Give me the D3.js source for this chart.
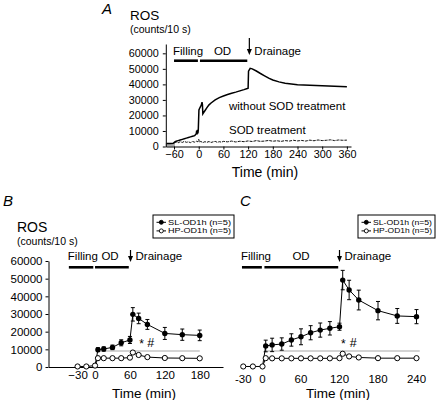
<!DOCTYPE html>
<html><head><meta charset="utf-8">
<script src="https://cdn.jsdelivr.net/npm/d3@7"></script>
<style>
body{margin:0;background:#fff;}
svg{display:block;font-family:Arial,"Liberation Sans",sans-serif;}
</style></head>
<body>
<svg id="chart" width="437" height="400"></svg>
<script>
// ---------- DATA ----------
// Panel A: continuous chemiluminescence traces (time in min, counts/10 s)
const traceATimes = [-78,-70,-62,-58,-55,-50,-45,-40,-35,-30,-25,-20,-15,-10,-8,-6,-5,-4,-3,-2,-1,0,0.5,2,4,6,8,9,10,12,15,20,25,30,40,50,60,70,80,90,100,110,118,120,121,125,130,140,150,160,170,180,195,210,225,240,270,300,330,360];
const traceAWithout = [2000,2000,2100,3000,3400,3800,4200,4600,5000,5400,5800,6200,6600,7000,7600,8200,10200,7800,10800,8400,11000,19500,23500,24500,25500,26500,28500,27000,21000,21800,23000,25000,26800,28000,30000,31500,32500,33500,34300,35000,35800,36600,37300,37500,48500,50300,50000,48600,47000,45500,44000,42800,41600,40800,40300,39800,39500,39100,38800,38500];
const traceSODTimes = [-60,-55,-50,-45,-40,-35,-30,-25,-20,-15,-10,-5,-2,0,2,5,10,15,20,25,30,35,40,45,50,55,60,70,80,90,100,110,120,130,140,150,160,170,180,190,200,210,220,230,240,250,260,270,280,290,300,310,320,330,340,350,360];
const traceSODValues = [2300,2900,2400,3100,2600,3300,2700,3000,2500,3200,2800,3400,3000,4600,2700,3300,2500,3100,2700,3200,2600,3000,3300,2700,3100,2800,3300,3000,3500,2900,3400,3100,3600,3200,3800,3300,3500,3900,3400,3700,3300,3800,3500,4000,3600,3900,3500,4100,3700,4200,3800,4000,4300,3800,4200,4000,4100];
// grey baseline band at the start of the recording
const bandTimes = [-80,-58];
const bandValue = 2200;
// Panel B: SL-OD1h and HP-OD1h, 1 h overdistension
const bSLTimes = [5,15,30,45,60,65,75,90,120,150,180];
const bSLValues = [9800,10200,11100,13700,15300,29800,27500,24100,19000,18300,17900];
const bSLErr = [1100,1200,1300,1700,2000,3800,3000,2800,3400,3200,3000];
const bHPTimes = [-30,-15,0,5,15,30,45,60,65,75,90,120,150,180];
const bHPValues = [300,300,800,5000,5000,5000,5000,5300,8200,6800,5600,5100,5000,4900];
// Panel C: SL-OD1h and HP-OD1h, 2 h overdistension
const cSLTimes = [5,15,30,45,60,75,90,105,120,125,135,150,180,210,240];
const cSLValues = [11900,12500,13000,15300,17100,19400,20900,21900,22800,49200,43600,37900,31900,28900,28500];
const cSLErr = [3300,3800,3500,3500,4500,4000,4000,3800,2000,5500,5500,5600,5200,4200,4000];
const cHPTimes = [-30,-15,0,5,15,30,45,60,75,90,105,120,125,135,150,180,210,240];
const cHPValues = [300,300,300,5000,4900,4900,4900,4900,4900,4900,4900,5000,7500,6000,5400,5000,5000,5000];
// tick labels / annotations
const aXTicks = [-60,0,60,120,180,240,300,360];
const bXTicks = [-30,0,60,120,180];
const cXTicks = [-30,0,60,120,180,240];
const yTicks = [0,10000,20000,30000,40000,50000,60000];
const legendLabels = ["SL-OD1h (n=5)","HP-OD1h (n=5)"];
const phaseLabels = ["Filling","OD","Drainage"];
// phase bars [start,end] in minutes
const aPhases = [[-60,-2],[3,118]], aDrain = 123;
const bPhases = [[-45,-3],[0,58]], bDrain = 61;
const cPhases = [[-32,-1],[3,118]], cDrain = 120;
const bSig = 9000, bSigRange = [5,180];
const cSig = 9000, cSigRange = [5,245];

// ---------- DRAW ----------
const svg = d3.select("#chart");
const FONT = 'Arial,"Liberation Sans",sans-serif';

function txt(x,y,s,size,opts={}){
  const t = svg.append("text").attr("x",x).attr("y",y).text(s)
    .attr("font-size",size).attr("fill","#000")
    .attr("text-anchor",opts.anchor||"start")
    .attr("dominant-baseline","central")
    .attr("font-style",opts.italic?"italic":"normal");
  if(opts.len) t.attr("textLength",opts.len).attr("lengthAdjust","spacingAndGlyphs");
  return t;
}

function phaseBlock(x, phases, drain, yLabel, yBar, arrowTop, arrowBot, size, odCenter){
  const g = svg.append("g");
  phases.forEach(p=>{
    g.append("line").attr("x1",x(p[0])).attr("x2",x(p[1])).attr("y1",yBar).attr("y2",yBar)
      .attr("stroke","#000").attr("stroke-width",2.6);
  });
  txt(x(phases[0][0])-1, yLabel, phaseLabels[0], size);
  txt(odCenter, yLabel, phaseLabels[1], size,{anchor:"middle"});
  g.append("line").attr("x1",x(drain)).attr("x2",x(drain)).attr("y1",arrowTop).attr("y2",arrowBot-5)
    .attr("stroke","#000").attr("stroke-width",1.2);
  g.append("path").attr("d",`M${x(drain)-2.5},${arrowBot-6} L${x(drain)+2.5},${arrowBot-6} L${x(drain)},${arrowBot} Z`).attr("fill","#000");
  txt(x(drain)+5, yLabel, phaseLabels[2], size);
}

// ===== Panel A =====
{
  const x = d3.scaleLinear().domain([-80,370]).range([165.8,351]);
  const y = d3.scaleLinear().domain([0,66000]).range([146.5,44]);
  svg.append("rect").attr("x",x(bandTimes[0])).attr("y",y(bandValue))
    .attr("width",x(bandTimes[1])-x(bandTimes[0])).attr("height",y(0)-y(bandValue)).attr("fill","#a8a8a8");
  const ax = svg.append("g").attr("transform","translate(0,146.5)")
    .call(d3.axisBottom(x).tickValues(aXTicks).tickSize(3).tickSizeOuter(0).tickFormat(d3.format("d")));
  const ay = svg.append("g").attr("transform","translate(165.8,0)")
    .call(d3.axisLeft(y).tickValues(yTicks).tickSize(3).tickSizeOuter(0).tickFormat(d3.format("d")));
  [ax,ay].forEach(g=>{g.selectAll("text").attr("font-size",10.8).attr("font-family",FONT);g.selectAll("path,line").attr("stroke","#000");});
  ax.selectAll("text").attr("dy","0.5em");
  ay.selectAll("text").attr("dx","-0.1em");

  const line = d3.line().x(d=>x(d[0])).y(d=>y(d[1]));
  svg.append("path").datum(traceSODTimes.map((t,i)=>[t,traceSODValues[i]]))
    .attr("d",line).attr("fill","none").attr("stroke","#111").attr("stroke-width",1).attr("stroke-dasharray","3,1");
  svg.append("path").datum(traceATimes.map((t,i)=>[t,traceAWithout[i]]))
    .attr("d",line).attr("fill","none").attr("stroke","#000").attr("stroke-width",1.5);

  phaseBlock(x, aPhases, aDrain, 51, 60.7, 38, 55, 11.5, 222.5);
  txt(102,8,"A",15,{italic:true});
  txt(130,15,"ROS",13.5);
  txt(130,28.5,"(counts/10 s)",10.5);
  txt(229,106,"without SOD treatment",11.5);
  txt(229,130,"SOD treatment",11.5);
  txt(265,172,"Time (min)",14,{anchor:"middle"});
}

function drawPanel(x, y, SL, HP, sig, sigRange, legendBox){
  const line = d3.line().x(d=>x(d.t)).y(d=>y(d.v));
  svg.append("line").attr("x1",x(sigRange[0])).attr("x2",x(sigRange[1])).attr("y1",y(sig)).attr("y2",y(sig))
    .attr("stroke","#c4c4c4").attr("stroke-width",1.5);
  svg.append("path").datum(HP).attr("d",line).attr("fill","none").attr("stroke","#000").attr("stroke-width",1);
  const base = HP.find(d=>d.t===0);
  svg.append("path").datum([base].concat(SL)).attr("d",line).attr("fill","none").attr("stroke","#000").attr("stroke-width",1);
  const eb = svg.append("g").attr("stroke","#000").attr("stroke-width",1);
  SL.forEach(d=>{
    eb.append("line").attr("x1",x(d.t)).attr("x2",x(d.t)).attr("y1",y(d.v-d.e)).attr("y2",y(d.v+d.e));
    [d.v-d.e,d.v+d.e].forEach(v=>eb.append("line").attr("x1",x(d.t)-2).attr("x2",x(d.t)+2).attr("y1",y(v)).attr("y2",y(v)));
  });
  svg.append("g").selectAll("circle").data(HP).join("circle")
    .attr("cx",d=>x(d.t)).attr("cy",d=>y(d.v)).attr("r",2.6).attr("fill","#fff").attr("stroke","#000").attr("stroke-width",1);
  svg.append("g").selectAll("circle").data(SL).join("circle")
    .attr("cx",d=>x(d.t)).attr("cy",d=>y(d.v)).attr("r",2.7).attr("fill","#000");
  const [lx,ly,lw,lh] = legendBox;
  svg.append("rect").attr("x",lx).attr("y",ly).attr("width",lw).attr("height",lh)
    .attr("fill","#fff").attr("stroke","#000").attr("stroke-width",1);
  legendLabels.forEach((s,i)=>{
    const yy = ly+7.3+i*8.6;
    svg.append("line").attr("x1",lx+3.5).attr("x2",lx+13).attr("y1",yy).attr("y2",yy).attr("stroke","#000");
    svg.append("circle").attr("cx",lx+8.3).attr("cy",yy).attr("r",2)
      .attr("fill",i===0?"#000":"#fff").attr("stroke","#000").attr("stroke-width",0.9);
    txt(lx+15, yy, s, 7.4, {len: lw-18});
  });
}

// ===== Panel B =====
{
  const x = d3.scaleLinear().domain([-80,220]).range([48.5,223]);
  const y = d3.scaleLinear().domain([0,60000]).range([367,261]);
  const ax = svg.append("g").attr("transform","translate(0,367)")
    .call(d3.axisBottom(x).tickValues(bXTicks).tickSize(0).tickSizeOuter(0).tickFormat(d3.format("d")));
  const ay = svg.append("g").attr("transform","translate(48.5,0)")
    .call(d3.axisLeft(y).tickValues(yTicks).tickSize(3).tickSizeOuter(0).tickFormat(d3.format("d")));
  [ax,ay].forEach(g=>{g.selectAll("text").attr("font-size",11.5).attr("font-family",FONT);g.selectAll("path,line").attr("stroke","#000");});
  ax.selectAll("text").attr("dy","0.75em");
  const SL = bSLTimes.map((t,i)=>({t,v:bSLValues[i],e:bSLErr[i]}));
  const HP = bHPTimes.map((t,i)=>({t,v:bHPValues[i]}));
  drawPanel(x,y,SL,HP,bSig,bSigRange,[153,215,81,23]);
  phaseBlock(x, bPhases, bDrain, 255.7, 267.3, 250, 262, 11.5, 110);
  txt(141.7,344,"*",12,{anchor:"middle"});
  txt(150.7,343,"#",12.5,{anchor:"middle"});
  txt(3,200,"B",15,{italic:true});
  txt(17,227,"ROS",14);
  txt(17,240.5,"(counts/10 s)",10.5);
  txt(144,393,"Time (min)",13.5,{anchor:"middle"});
}

// ===== Panel C =====
{
  const x = d3.scaleLinear().domain([-30,240]).range([243.25,416.5]);
  const y = d3.scaleLinear().domain([0,60000]).range([367,261]);
  svg.append("g").selectAll("text").data(cXTicks).join("text")
    .attr("x",d=>x(d)).attr("y",378.5).attr("text-anchor","middle").attr("dominant-baseline","central")
    .attr("font-size",11.5).text(d=>d);
  const SL = cSLTimes.map((t,i)=>({t,v:cSLValues[i],e:cSLErr[i]}));
  const HP = cHPTimes.map((t,i)=>({t,v:cHPValues[i]}));
  drawPanel(x,y,SL,HP,cSig,cSigRange,[358,215,77,23]);
  phaseBlock(x, cPhases, cDrain, 255.7, 267.3, 250, 262, 11.5, 301);
  txt(343.3,344,"*",12,{anchor:"middle"});
  txt(353.3,343,"#",12.5,{anchor:"middle"});
  txt(240,200,"C",15,{italic:true});
  txt(338,393,"Time (min)",13.5,{anchor:"middle"});
}
</script>
</body></html>
